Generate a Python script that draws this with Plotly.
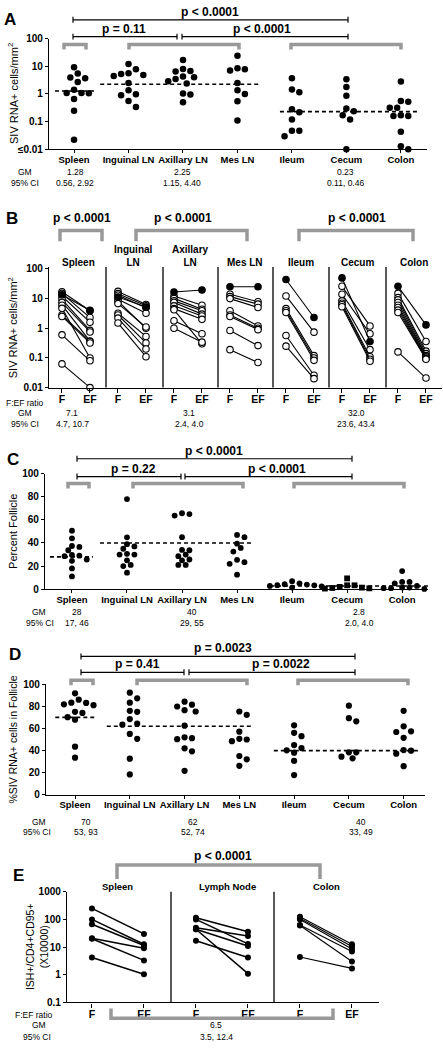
import math
import plotly.graph_objects as go

W, H = 443, 1048
FONT = "Liberation Sans, Arial, sans-serif"

# ---------------- Panel A data (SIV RNA+ cells/mm2) ----------------
a_categories = ["Spleen", "Inguinal LN", "Axillary LN", "Mes LN", "Ileum", "Cecum", "Colon"]
a_spleen = [9.2, 3.9, 5.5, 3.7, 2.7, 1.09, 1.43, 1.06, 1.09, 0.66, 0.25, 0.022]
a_inguinal = [12, 5.6, 4.8, 5.3, 4.5, 7.8, 2.5, 0.98, 0.9, 1.35, 0.56, 0.34]
a_axillary = [17, 6.8, 6.5, 8.0, 4.3, 3.5, 4.0, 2.9, 2.4, 1.05, 0.95, 0.5]
a_mes = [24, 7.8, 7.0, 8.5, 2.5, 1.35, 1.0, 0.55, 0.11]
a_ileum = [3.7, 1.45, 1.15, 0.28, 0.22, 0.12, 0.047, 0.047, 0.03]
a_cecum = [3.4, 1.8, 0.87, 0.24, 0.3, 0.17, 0.12, 0.01]
a_colon = [2.8, 0.56, 0.32, 0.32, 0.52, 0.17, 0.16, 0.16, 0.043, 0.013, 0.01]
a_gm = [1.28, 2.25, 0.23]
a_ci = ["0.56, 2.92", "1.15, 4.40", "0.11, 0.46"]
a_yticks = [0.01, 0.1, 1, 10, 100]
a_yticktext = ["≤0.01", "0.1", "1", "10", "100"]

# ---------------- Panel B data (F vs EF, paired) ----------------
b_titles = ["Spleen", "Inguinal<br>LN", "Axillary<br>LN", "Mes LN", "Ileum", "Cecum", "Colon"]
b_spleen_f = [17, 15, 13.5, 12, 9.5, 7.5, 6.0, 4.7, 2.8, 2.5, 0.6, 0.063]
b_spleen_ef = [3.9, 2.3, 4.0, 1.6, 0.85, 0.75, 0.37, 0.1, 0.36, 0.32, 0.08, 0.01]
b_inguinal_f = [17.5, 14.7, 13, 11.4, 9.5, 8.2, 6.8, 3.2, 2.8, 2.2, 1.5]
b_inguinal_ef = [6.3, 5.7, 4.9, 5.2, 3.2, 1.0, 1.1, 0.53, 0.32, 0.2, 0.11]
b_axillary_f = [16.7, 12.3, 10.2, 8.4, 7.4, 5.7, 4.6, 4.2, 1.8, 1.0]
b_axillary_ef = [19.5, 6.0, 4.4, 3.9, 3.0, 2.6, 2.0, 0.3, 0.65, 0.34]
b_mes_f = [25, 14, 11.7, 10, 3.9, 2.8, 2.5, 0.84, 0.19]
b_mes_ef = [25, 7.8, 6.5, 5.0, 1.2, 1.0, 0.9, 0.26, 0.07]
b_ileum_f = [44, 12.3, 4.6, 3.9, 3.4, 0.57, 0.25]
b_ileum_ef = [2.3, 0.74, 0.12, 0.1, 0.083, 0.026, 0.02]
b_cecum_f = [50, 26, 14, 8.4, 7.0, 6.2, 5.3]
b_cecum_ef = [0.36, 1.2, 0.65, 0.19, 0.11, 0.09, 0.077]
b_colon_f = [26, 15, 10.8, 9.1, 7.4, 6.0, 5.0, 4.1, 3.4, 0.16]
b_colon_ef = [1.3, 0.36, 0.17, 0.14, 0.12, 0.11, 0.1, 0.095, 0.09, 0.021]
b_filled = [2, 3, 0, 0, 0, 0, 0]   # index of the solid-marker animal per tissue
b_gm = [7.1, 3.1, 32.0]
b_ci = ["4.7, 10.7", "2.4, 4.0", "23.6, 43.4"]
b_yticks = [0.01, 0.1, 1, 10, 100]
b_yticktext = ["0.01", "0.1", "1", "10", "100"]

# ---------------- Panel C data (Percent Follicle) ----------------
c_spleen = [50.6, 44, 33.7, 36.6, 37.4, 29, 25.7, 24.6, 28.6, 29.7, 18, 11.1]
c_inguinal = [78, 44.9, 39, 37, 35, 30.6, 30, 30, 25, 20, 21, 14.3]
c_axillary = [65, 63.7, 65.7, 45, 34, 30, 28.6, 33.7, 25, 21, 21, 25.7]
c_mes = [45, 47, 39.4, 35.7, 32.6, 23.4, 22, 25.4, 12.6]
c_ileum = [4.3, 5.1, 6.9, 2.9, 1.4, 4.0, 3.5, 3.4, 2.5]
c_cecum = [9.4, 3.4, 1.4, 0.6, 1.1, 2.0, 3.4, 0.8]
c_colon = [15.7, 6.3, 6.3, 5.1, 2.9, 0.9, 0.3, 0.9, 1.4, 1.4]
c_gm = [28, 40, 2.8]
c_ci = ["17, 46", "29, 55", "2.0, 4.0"]

# ---------------- Panel D data (%SIV RNA+ cells in Follicle) ----------------
d_spleen = [91.7, 83.3, 81.8, 81, 83, 86, 74, 75, 67.9, 70.2, 43.5, 33.6]
d_inguinal = [92.3, 87.2, 83.3, 75, 75.9, 68.5, 64.3, 63.4, 50.6, 55, 32.7, 18.5]
d_axillary = [84.2, 79.8, 75.3, 76.5, 81.5, 62.5, 52, 50.3, 51.2, 42, 39.3, 21.7]
d_mes = [75.3, 72.3, 57.1, 50.6, 48.5, 50, 35.1, 32.1, 26.2]
d_ileum = [62.8, 53, 56, 45, 42.3, 38.1, 40.2, 30.7, 17.9]
d_cecum = [80.6, 69.3, 66.4, 38.4, 33, 34.5, 38.4]
d_colon = [75.9, 61.9, 57.4, 56.8, 51.5, 40.5, 39.9, 37.2, 25.9]
d_gm = [70, 62, 40]
d_ci = ["53, 93", "52, 74", "33, 49"]

# ---------------- Panel E data (ISH+/CD4+CD95+ x10000) ----------------
e_titles = ["Spleen", "Lymph Node", "Colon"]
e_spleen_f = [250, 100, 67, 21, 20, 4.2]
e_spleen_ef = [30, 12.7, 11.4, 9.1, 3.3, 1.05]
e_ln_f = [115, 100, 50, 44, 44, 17]
e_ln_ef = [36, 13, 25, 11, 1.1, 4.2]
e_colon_f = [126, 110, 100, 63, 60, 4.4]
e_colon_ef = [12.7, 10.5, 8.6, 6.9, 3.0, 1.7]
e_gm = [6.5]
e_ci = ["3.5, 12.4"]
e_yticks = [0.1, 1, 10, 100, 1000]
e_yticktext = ["0.1", "1", "10", "100", "1000"]

pair_labels = ["F", "EF"]

# ======================================================================
fig = go.Figure()
annotations = []
shapes = []
layout_axes = {}
GRAY = "#999999"


def P(x, y):
    return x / W, 1 - y / H


def text(s, x, y, size=8.5, bold=False, xanchor="center", angle=0):
    xx, yy = P(x, y)
    annotations.append(dict(
        text=s, x=xx, y=yy, xref="paper", yref="paper", showarrow=False,
        xanchor=xanchor, yanchor="middle", textangle=angle,
        font=dict(family=FONT, size=size, color="black",
                  weight="bold" if bold else "normal")))


def seg(x0, y0, x1, y1, color="black", width=1.2):
    a = P(x0, y0)
    b = P(x1, y1)
    shapes.append(dict(type="line", xref="paper", yref="paper",
                       x0=a[0], y0=a[1], x1=b[0], y1=b[1],
                       line=dict(color=color, width=width)))


def black_bracket(x0, x1, y, h=3):
    seg(x0, y, x1, y)
    seg(x0, y - h, x0, y + h)
    seg(x1, y - h, x1, y + h)


def gray_bracket(x0, x1, y_bar, y_end):
    a0 = P(x0, y_end)
    a1 = P(x0, y_bar)
    b1 = P(x1, y_bar)
    b0 = P(x1, y_end)
    path = f"M {a0[0]},{a0[1]} L {a1[0]},{a1[1]} L {b1[0]},{b1[1]} L {b0[0]},{b0[1]}"
    shapes.append(dict(type="path", xref="paper", yref="paper", path=path,
                       line=dict(color=GRAY, width=3.5)))


def add_axes(n, xdom, ydom, xr, yr, ylog, xtickvals, xticktext, xfont,
             ytickvals=None, yticktext=None, dtick=None, xticklen=3):
    xs = "x" if n == 1 else f"x{n}"
    ys = "y" if n == 1 else f"y{n}"
    xk = "xaxis" if n == 1 else f"xaxis{n}"
    yk = "yaxis" if n == 1 else f"yaxis{n}"
    layout_axes[xk] = dict(
        domain=[xdom[0] / W, xdom[1] / W], range=xr, anchor=ys,
        showline=True, linecolor="black", linewidth=1.3,
        ticks="outside", ticklen=xticklen, tickwidth=1.2, tickcolor="black",
        tickvals=xtickvals, ticktext=xticktext, ticklabelstandoff=-2,
        tickfont=dict(family=FONT, size=xfont, color="black", weight="bold"),
        showgrid=False, zeroline=False, fixedrange=True)
    ya = dict(
        domain=[1 - ydom[1] / H, 1 - ydom[0] / H], range=yr, anchor=xs,
        type="log" if ylog else "linear",
        showline=True, linecolor="black", linewidth=1.3,
        ticks="outside", ticklen=3, tickwidth=1.2, tickcolor="black",
        tickfont=dict(family=FONT, size=10, color="black", weight="bold"),
        showgrid=False, zeroline=False, fixedrange=True)
    if ytickvals is not None:
        ya["tickvals"] = ytickvals
        ya["ticktext"] = yticktext
    if dtick is not None:
        ya["dtick"] = dtick
        ya["tick0"] = 0
    layout_axes[yk] = ya
    return xs, ys


def swarm(vals, to_px, step, diam):
    ys = [to_px(v) for v in vals]
    order = sorted(range(len(vals)), key=lambda i: -vals[i])
    placed = []
    off = [0.0] * len(vals)
    cands = [0] + [s * j for j in range(1, 40) for s in (1, -1)]
    for i in order:
        xo = 0.0
        for c in cands:
            xo = c * step
            if all((xo - px_) ** 2 + (ys[i] - py_) ** 2 >= diam ** 2 for px_, py_ in placed):
                break
        placed.append((xo, ys[i]))
        off[i] = xo
    return off


def scatter_panel(groups, xs, ys, xdom, xr, to_px, size, symbols, step=3.7, diam=7.0):
    ppu = (xdom[1] - xdom[0]) / (xr[1] - xr[0])
    for i, vals in enumerate(groups):
        off = swarm(vals, to_px, step, diam)
        fig.add_trace(go.Scatter(
            x=[i + o / ppu for o in off], y=vals, mode="markers",
            xaxis=xs, yaxis=ys, cliponaxis=False, hoverinfo="skip",
            marker=dict(color="black", size=size, symbol=symbols[i], line=dict(width=0))))


def gm_lines(gm, spans, xs, ys):
    for g, (x0, x1) in zip(gm, spans):
        fig.add_trace(go.Scatter(
            x=[x0, x1], y=[g, g], mode="lines", xaxis=xs, yaxis=ys, hoverinfo="skip",
            line=dict(color="black", width=1.6, dash="4px,3px")))


# ======================= Panel A =======================
A_xdom, A_ydom, A_xr, A_yr = (49, 427), (33, 145), [-0.46, 6.48], [-2, 2]
xa, ya = add_axes(1, A_xdom, A_ydom, A_xr, A_yr, True, list(range(7)), a_categories, 9.5,
                  a_yticks, a_yticktext)
a_groups = [a_spleen, a_inguinal, a_axillary, a_mes, a_ileum, a_cecum, a_colon]
gm_lines(a_gm, [(-0.35, 0.42), (0.48, 3.42), (3.78, 6.35)], xa, ya)
scatter_panel(a_groups, xa, ya, A_xdom, A_xr,
              lambda v: (math.log10(v) - A_yr[0]) / (A_yr[1] - A_yr[0]) * (A_ydom[1] - A_ydom[0]),
              6.5, ["circle"] * 7, step=3.7, diam=7.2)

text("A", 10, 14, 17, True)
text("p < 0.0001", 210, 6.5, 12, True)
black_bracket(73, 348, 14)
text("p = 0.11", 124, 23.5, 12, True)
black_bracket(73, 177, 31)
text("p < 0.0001", 262, 23.5, 12, True)
black_bracket(182, 348, 31)
gray_bracket(64, 86, 39, 44)
gray_bracket(129, 239, 39, 44)
gray_bracket(291, 401, 39, 44)
text("SIV RNA+ cells/mm<sup>2</sup>", 13, 89, 11, angle=-90)
text("GM", 25, 168)
text("95% CI", 25, 179)
for g, ci, x in zip(a_gm, a_ci, [75, 182, 345]):
    text(f"{g:.2f}", x, 168)
    text(ci, x, 179)

# ======================= Panel B =======================
B_xdom, B_ydom, B_xr, B_yr = (49, 442), (264, 386), [-0.232, 6.786], [-2, 2.067]
b_ticks = [i + d for i in range(7) for d in (0, 0.5)]
b_ticktext = pair_labels * 7
xb, yb = add_axes(2, B_xdom, B_ydom, B_xr, B_yr, True, b_ticks, b_ticktext, 10.5,
                  b_yticks, b_yticktext, xticklen=4)
b_f = [b_spleen_f, b_inguinal_f, b_axillary_f, b_mes_f, b_ileum_f, b_cecum_f, b_colon_f]
b_ef = [b_spleen_ef, b_inguinal_ef, b_axillary_ef, b_mes_ef, b_ileum_ef, b_cecum_ef, b_colon_ef]
b_traces_open, b_traces_solid = [], []
for i in range(7):
    for j, (f, ef) in enumerate(zip(b_f[i], b_ef[i])):
        filled = (j == b_filled[i])
        tr = go.Scatter(
            x=[i, i + 0.5], y=[f, ef], mode="lines+markers", xaxis=xb, yaxis=yb,
            cliponaxis=False, hoverinfo="skip",
            line=dict(color="black", width=1.1),
            marker=dict(size=6.5, color="black" if filled else "white",
                        line=dict(color="black", width=1.1)))
        (b_traces_solid if filled else b_traces_open).append(tr)
for tr in b_traces_open + b_traces_solid:
    fig.add_trace(tr)

for xs_ in [106, 163, 218, 273, 329, 386]:
    seg(xs_, 264, xs_, 386, width=1.3)
text("B", 12, 215, 17, True)
for x in [82, 183, 357]:
    text("p < 0.0001", x, 214, 12, True)
gray_bracket(60, 102, 227, 238)
gray_bracket(136, 247, 227, 238)
gray_bracket(299, 413, 227, 238)
for t, x in zip(b_titles, [78, 133, 190, 245, 301, 357, 414]):
    if "<br>" in t:
        text(t, x, 252.5, 10, True)
    else:
        text(t, x, 259, 10, True)
text("SIV RNA+ cells/mm<sup>2</sup>", 13, 326, 11, angle=-90)
text("F:EF ratio", 25, 402)
text("GM", 25, 412)
text("95% CI", 25, 423)
for g, ci, x in zip(b_gm, b_ci, [72, 189, 356]):
    text(f"{g:.1f}", x, 412)
    text(ci, x, 423)

# ======================= Panel C =======================
C_xdom, C_ydom, C_xr, C_yr = (45, 428), (473, 590), [-0.49, 6.47], [0, 100]
xc, yc = add_axes(3, C_xdom, C_ydom, C_xr, C_yr, False, list(range(7)), a_categories, 9.5,
                  dtick=20)
c_groups = [c_spleen, c_inguinal, c_axillary, c_mes, c_ileum, c_cecum, c_colon]
gm_lines(c_gm, [(-0.4, 0.38), (0.51, 3.29), (3.6, 6.47)], xc, yc)
scatter_panel(c_groups, xc, yc, C_xdom, C_xr,
              lambda v: v / 100 * (C_ydom[1] - C_ydom[0]), 5.8,
              ["circle"] * 5 + ["square", "circle"], step=3.7, diam=5.6)
text("C", 13, 459, 17, True)
text("p < 0.0001", 214, 450.5, 12, True)
black_bracket(77, 352, 458)
text("p = 0.22", 133, 468, 12, True)
black_bracket(77, 181, 476)
text("p < 0.0001", 277, 468, 12, True)
black_bracket(185, 352, 476)
gray_bracket(68, 89, 483, 488)
gray_bracket(133, 243, 483, 488)
gray_bracket(294, 404, 483, 488)
text("Percent Follicle", 13, 532, 11, angle=-90)
text("GM", 39, 613)
text("95% CI", 40, 624)
for g, ci, x in zip(c_gm, c_ci, [77, 192, 359]):
    text(f"{g:g}", x, 613)
    text(ci, x, 624)

# ======================= Panel D =======================
D_xdom, D_ydom, D_xr, D_yr = (46, 425), (686, 798), [-0.53, 6.39], [0, 100]
xd, yd = add_axes(4, D_xdom, D_ydom, D_xr, D_yr, False, list(range(7)), a_categories, 9.5,
                  dtick=20)
d_groups = [d_spleen, d_inguinal, d_axillary, d_mes, d_ileum, d_cecum, d_colon]
gm_lines(d_gm, [(-0.36, 0.35), (0.58, 3.25), (3.63, 6.31)], xd, yd)
scatter_panel(d_groups, xd, yd, D_xdom, D_xr,
              lambda v: v / 100 * (D_ydom[1] - D_ydom[0]), 6.2, ["circle"] * 7,
              step=3.7, diam=7.0)
text("D", 15, 656, 17, True)
text("p = 0.0023", 223, 649, 12, True)
black_bracket(81, 355, 658)
text("p = 0.41", 137, 665.5, 12, True)
black_bracket(81, 184, 674)
text("p = 0.0022", 281, 665.5, 12, True)
black_bracket(189, 355, 674)
gray_bracket(71, 93, 682, 687)
gray_bracket(137, 247, 682, 687)
gray_bracket(298, 408, 682, 687)
text("%SIV RNA+ cells in Follicle", 13, 742, 10.5, angle=-90)
text("GM", 39, 825)
text("95% CI", 37, 836)
for g, ci, x in zip(d_gm, d_ci, [86, 193, 361]):
    text(f"{g:g}", x, 825)
    text(ci, x, 836)

# ======================= Panel E =======================
E_xdom, E_ydom, E_xr, E_yr = (67, 379), (896, 1008), [-0.24, 2.76], [-1, 3]
e_ticks = [i + d for i in range(3) for d in (0, 0.5)]
xe, ye = add_axes(5, E_xdom, E_ydom, E_xr, E_yr, True, e_ticks, pair_labels * 3, 10.5,
                  e_yticks, e_yticktext, xticklen=4)
e_f = [e_spleen_f, e_ln_f, e_colon_f]
e_ef = [e_spleen_ef, e_ln_ef, e_colon_ef]
for i in range(3):
    for f, ef in zip(e_f[i], e_ef[i]):
        fig.add_trace(go.Scatter(
            x=[i, i + 0.5], y=[f, ef], mode="lines+markers", xaxis=xe, yaxis=ye,
            cliponaxis=False, hoverinfo="skip",
            line=dict(color="black", width=1.5 if i < 2 else 1.1),
            marker=dict(size=6, color="black")))
for xs_ in [171, 274]:
    seg(xs_, 896, xs_, 1008, width=1.3)
text("E", 18, 880, 17, True)
text("p < 0.0001", 223, 860, 12, True)
gray_bracket(117, 320, 869, 883)
for t, x in zip(e_titles, [118, 227, 326]):
    text(t, x, 891, 9.5, True)
text("ISH+/CD4+CD95+<br>(X10000)", 37, 952, 10.5, angle=-90)
text("F:EF ratio", 34, 1021)
text("GM", 39, 1031)
text("95% CI", 37, 1043)
text(f"{e_gm[0]:.1f}", 216, 1031)
text(e_ci[0], 216, 1043)
gray_bracket(111, 333, 1024, 1014)

fig.update_layout(
    width=W, height=H, autosize=False,
    margin=dict(l=0, r=0, t=0, b=0),
    paper_bgcolor="white", plot_bgcolor="white",
    showlegend=False,
    font=dict(family=FONT, color="black"),
    annotations=annotations, shapes=shapes,
    **layout_axes)

fig.write_html(
    "out.html",
    config={"displayModeBar": False},
    post_script="document.body.style.margin='0';document.body.style.padding='0';"
                "document.body.style.overflow='hidden';"
                "document.documentElement.style.overflow='hidden';")
